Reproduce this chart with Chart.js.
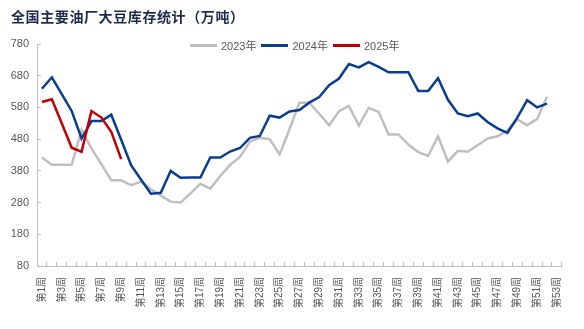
<!DOCTYPE html>
<html>
<head>
<meta charset="utf-8">
<script src="https://cdn.jsdelivr.net/npm/chart.js@4"></script>
<style>
  html, body { margin: 0; padding: 0; background: #fff; }
  #wrap { position: relative; width: 584px; height: 329px; }
  #title { position: absolute; left: 11px; top: 8px; font: bold 14px 'Noto Sans CJK SC', sans-serif; line-height: 16px; color: #1b2b4b; letter-spacing: 0.6px; }
  #legend { position: absolute; left: 190px; top: 37px; display: flex; align-items: center; font: 11px 'Liberation Sans', 'Noto Sans CJK SC', sans-serif; color: #595959; }
  #legend .item { display: flex; align-items: center; margin-right: 5px; }
  #legend .swatch { width: 27px; height: 3px; margin-right: 4px; }
</style>
</head>
<body>
<div id="wrap">
  <canvas id="myChart" width="584" height="329"></canvas>
  <div id="title">全国主要油厂大豆库存统计（万吨）</div>
  <div id="legend"></div>
</div>
<script>
// week labels on the x axis
let weeks = ["第1周","第2周","第3周","第4周","第5周","第6周","第7周","第8周","第9周","第10周",
  "第11周","第12周","第13周","第14周","第15周","第16周","第17周","第18周","第19周","第20周",
  "第21周","第22周","第23周","第24周","第25周","第26周","第27周","第28周","第29周","第30周",
  "第31周","第32周","第33周","第34周","第35周","第36周","第37周","第38周","第39周","第40周",
  "第41周","第42周","第43周","第44周","第45周","第46周","第47周","第48周","第49周","第50周",
  "第51周","第52周","第53周"];

let seriesNames = ["2023年", "2024年", "2025年"];
let seriesColors = ["#bfbfbf", "#0b3d8c", "#c00000"];

// 万吨
let y2023 = [422,399,399,399,509,451,401,350,350,335,346,322,302,283,280,309,339,324,364,399,
  424,472,484,480,432,511,595,595,560,524,568,585,523,579,566,495,495,463,439,427,
  489,409,443,440,461,482,489,507,542,524,543,614];
let y2024 = [639,675,622,569,482,537,537,557,478,398,353,308,311,380,358,359,359,422,422,441,
  452,484,490,554,548,567,572,595,613,650,671,717,706,723,708,691,691,691,632,632,
  672,604,561,552,561,534,514,500,548,603,580,592];
let y2025 = [597,606,530,453,440,569,548,503,417];

let yTicks = [80,180,280,380,480,580,680,780];

const font = "'Liberation Sans', 'Noto Sans CJK SC', sans-serif";
const axisColor = "#bfbfbf";
const labelColor = "#595959";

// legend
let legend = document.getElementById("legend");
seriesNames.forEach(function(name, i){
    let item = document.createElement("div");
    item.className = "item";
    item.innerHTML = '<span class="swatch" style="background:' + seriesColors[i] + '"></span><span>' + name + '</span>';
    legend.appendChild(item);
});

let allData = [y2023, y2024, y2025];
let datasets = [];
for (let i = 0; i < 3; i++){
    datasets.push({
        label: seriesNames[i],
        data: allData[i],
        borderColor: seriesColors[i],
        backgroundColor: seriesColors[i],
        borderWidth: 2.5,
        pointRadius: 0,
        tension: 0,
        fill: false,
        order: 3 - i
    });
}

const ctx = document.getElementById("myChart").getContext("2d");
const myChart = new Chart(ctx, {
    type: "line",
    data: { labels: weeks, datasets: datasets },
    options: {
        responsive: false,
        animation: false,
        layout: { padding: { top: 44, right: 12, left: 0, bottom: 0 } },
        plugins: {
            legend: { display: false },
            title: { display: false },
            tooltip: { enabled: false }
        },
        scales: {
            x: {
                type: "category",
                offset: true,
                grid: { display: true, drawOnChartArea: false, offset: true, tickLength: -4, color: axisColor, lineWidth: 1 },
                border: { display: true, color: axisColor, width: 1 },
                ticks: {
                    autoSkip: false,
                    minRotation: 90,
                    maxRotation: 90,
                    padding: 15,
                    color: labelColor,
                    font: { family: font, size: 10 },
                    callback: function(value, index){
                        return index % 2 === 0 ? weeks[index] : "";
                    }
                },
                afterFit: function(scale){ scale.height = 63; }
            },
            y: {
                min: yTicks[0],
                max: yTicks[yTicks.length - 1],
                grid: { display: true, drawOnChartArea: false, tickLength: -4, color: axisColor, lineWidth: 1 },
                border: { display: true, color: axisColor, width: 1 },
                ticks: {
                    stepSize: 100,
                    padding: 12,
                    color: labelColor,
                    font: { family: font, size: 11 }
                },
                afterBuildTicks: function(scale){
                    scale.ticks = yTicks.map(function(v){ return { value: v }; });
                },
                afterFit: function(scale){ scale.width = 37; }
            }
        }
    }
});
</script>
</body>
</html>
